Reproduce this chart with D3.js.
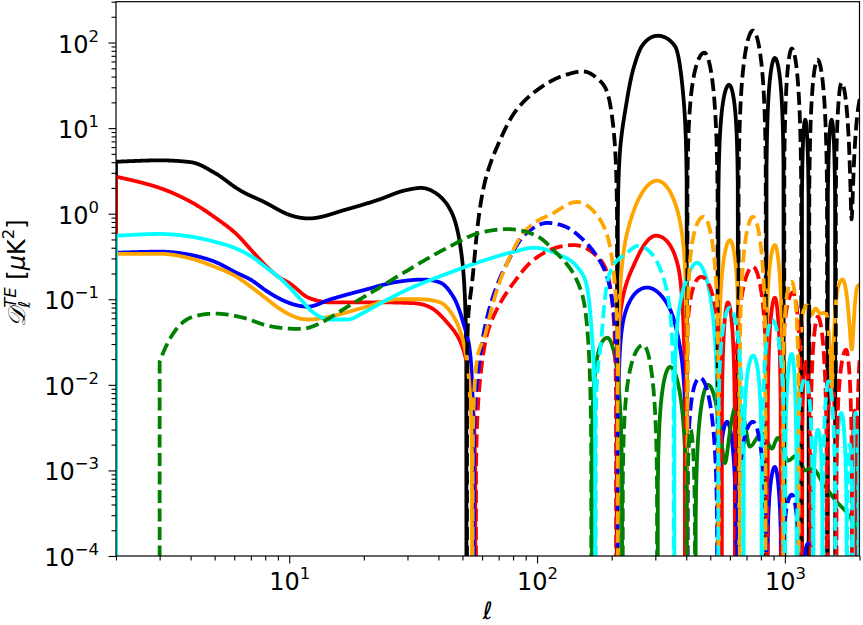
<!DOCTYPE html>
<html lang="en">
<head>
<meta charset="UTF-8">
<title>TE spectra</title>
<script src="https://cdn.jsdelivr.net/npm/d3@7"></script>
<style>
  body { margin: 0; background: #fff; }
  svg { display: block; font-family: "DejaVu Sans", sans-serif; }
</style>
</head>
<body>
<script>
// multipoles and signed D_l^TE values (uK^2), negative -> dashed
var ellBlack = [2, 3, 4, 5, 6, 8, 10, 12, 17, 23, 30, 34, 40, 46, 50, 52, 55.5, 63, 71, 83, 97, 131, 153, 174, 192, 204, 211, 231, 246, 265, 307, 360, 390, 403, 473, 537, 595, 648, 743, 840, 911, 991, 1067, 1168, 1208, 1250, 1355, 1485, 1544, 1600, 1693, 1858, 2006];
var teBlack = [4.05, 4.2, 4.0, 3.0, 2.07, 1.35, 0.97, 0.88, 1.12, 1.46, 1.9, 2.0, 1.65, 0.92, 0.27, 0, -0.24, -3, -7.3, -16.6, -26, -42, -46, -38.5, -26, -9, 0, 22, 52, 91, 120, 91, 22, 0, -76, 0, 32, 0, -138, 0, 66, 0, -85, 0, 12.5, 0, -63, 0, 12.5, 0, -34, -0.86, -22];

var ellRed = [2, 3, 4, 5, 6, 7, 8, 9, 10, 11.9, 14.7, 23.4, 31.8, 37.2, 43.5, 49, 53, 56.5, 59, 63, 71, 81, 97, 116, 140, 168, 192, 209, 244, 302, 371, 396, 460, 555, 589, 630, 743, 850, 911, 965, 1077, 1171, 1215, 1265, 1359, 1480, 1548, 1610, 1766, 1870, 1910, 1950, 2006];
var teRed = [2.71, 2.0, 1.38, 0.91, 0.61, 0.38, 0.25, 0.185, 0.155, 0.105, 0.092, 0.092, 0.09, 0.08, 0.053, 0.032, 0.014, 0, -0.012, -0.04, -0.09, -0.16, -0.29, -0.39, -0.43, -0.35, -0.2, 0, 0.24, 0.553, 0.24, 0, -0.183, 0, 0.092, 0, -0.24, 0, 0.104, 0, -0.12, 0, 0.0186, 0, -0.0624, 0, 0.0114, 0, -0.0257, 0, 0.005, 0, -0.021];

var ellBlue = [2, 3, 4, 5, 6, 7, 8, 9, 11.9, 14.7, 20, 27.4, 34.8, 40.6, 46, 50.4, 53.9, 55.5, 58, 63, 76, 91, 110, 131, 153, 174, 192, 204, 212, 227, 278, 340, 377, 404, 455, 535, 584, 640, 743, 845, 911, 975, 1067, 1165, 1240, 1300];
var teBlue = [0.35, 0.36, 0.33, 0.275, 0.21, 0.169, 0.128, 0.104, 0.082, 0.1, 0.128, 0.16, 0.17, 0.157, 0.106, 0.053, 0.021, 0, -0.015, -0.063, -0.27, -0.6, -0.78, -0.7, -0.5, -0.32, -0.18, -0.07, 0, 0.07, 0.137, 0.082, 0.028, 0, -0.0121, 0, 0.0037, 0, -0.0037, 0, 0.0011, 0, -0.00052, 0, 0.00014, 0];

var ellOrange = [2, 3, 4, 5, 6, 7, 8, 9, 11.9, 14.7, 20, 27.4, 33.8, 40.6, 46, 50.4, 53, 54.8, 57, 63, 76, 91, 103, 113, 145, 174, 194, 204, 212, 231, 305, 384, 403, 470, 540, 600, 656, 743, 838, 911, 982, 1067, 1140, 1190, 1225, 1280, 1330, 1390, 1460, 1548, 1640, 1710, 1863, 1960, 2006];
var teOrange = [0.34, 0.34, 0.3, 0.24, 0.19, 0.14, 0.104, 0.08, 0.058, 0.063, 0.08, 0.1, 0.1, 0.092, 0.063, 0.032, 0.0125, 0, -0.018, -0.048, -0.27, -0.66, -0.86, -0.97, -1.37, -0.97, -0.5, -0.2, 0, 0.6, 2.43, 0.6, 0, -0.92, 0, 0.49, 0, -0.92, 0, 0.43, 0, -0.16, 0, 0.075, 0.085, 0.066, 0.078, 0.068, 0.07, 0.0095, 0.14, 0.17, 0.026, 0.14, 0.15];

var ellCyan = [2, 3, 4, 5, 6, 7, 8, 9, 11.1, 12.5, 14.7, 17.2, 20, 23.4, 31.8, 43.5, 59, 81, 97, 123, 145, 159, 166, 172, 183, 193, 231, 256, 295, 323, 339, 357, 395, 442, 537, 600, 680, 745, 808, 886, 1000, 1067, 1118, 1215, 1300, 1360, 1420, 1500, 1600, 1690, 1780, 1830, 1875, 1930, 1985, 2006];
var teCyan = [0.553, 0.58, 0.54, 0.47, 0.4, 0.32, 0.24, 0.185, 0.1, 0.07, 0.058, 0.058, 0.07, 0.09, 0.14, 0.2, 0.275, 0.36, 0.4, 0.33, 0.24, 0.14, 0.044, 0, -0.044, -0.17, -0.35, -0.42, -0.32, -0.18, -0.1, 0, 0.15, 0.267, 0, -0.08, 0, 0.022, 0, -0.058, 0, 0.023, 0, -0.012, 0, 0.003, 0, -0.011, 0, 0.0047, 0, -0.002, 0, 0.0047, 0, -0.003];

var ellGreen = [3, 4, 5, 6.5, 8, 9.9, 11.1, 13.4, 17.2, 23.4, 31.8, 43.5, 59, 76, 91, 103, 116, 140, 153, 166, 192, 221, 268, 306, 344, 402, 416, 435, 490, 573, 646, 722, 808, 886, 937, 1028, 1118, 1204, 1285, 1424, 1560, 1780, 2006];
var teGreen = [-0.0186, -0.061, -0.068, -0.061, -0.05, -0.0455, -0.045, -0.053, -0.082, -0.14, -0.24, -0.4, -0.6, -0.66, -0.61, -0.52, -0.38, -0.2, -0.106, 0, 0.0355, 0, -0.0293, 0, 0.0162, 0, -0.003, 0, 0.01, 0.00122, 0.0062, 0.0019, 0.0027, 0.0018, 0.0024, 0.0013, 0.0015, 0.001, 0.00106, 0.00071, 0.00049, 0.00032, 0.000185];

var xMajor = [10, 100, 1000];
var yMajor = [1e-4, 1e-3, 1e-2, 1e-1, 1, 10, 100];

var series = [
  { color: "black",   ell: ellBlack,  te: teBlack },
  { color: "red",     ell: ellRed,    te: teRed },
  { color: "blue",    ell: ellBlue,   te: teBlue },
  { color: "orange",  ell: ellOrange, te: teOrange },
  { color: "green",   ell: ellGreen,  te: teGreen },
  { color: "cyan",    ell: ellCyan,   te: teCyan }
];

var w = 863, h = 625;
var pLeft = 116, pRight = 859.5, pTop = 1.7, pBottom = 556;
var TINY = 1e-9;   // stands in for zero on the log axis (far below the frame)

var x = d3.scaleLog().domain([2, 2000]).range([pLeft, pRight]);
var y = d3.scaleLog().domain([1e-4, 300]).range([pBottom, pTop]);

var svg = d3.select("body").append("svg").attr("width", w).attr("height", h);

svg.append("clipPath").attr("id", "plotclip")
  .append("rect").attr("x", pLeft).attr("y", pTop)
  .attr("width", pRight - pLeft).attr("height", pBottom - pTop);

// smooth monotone curve through the signed values, in log(ell)
function sampleSeries(ells, vals) {
  var lx = ells.map(Math.log10), n = lx.length, m = new Array(n);
  for (var i = 1; i < n - 1; i++) {
    var h0 = lx[i] - lx[i - 1], h1 = lx[i + 1] - lx[i];
    var s0 = (vals[i] - vals[i - 1]) / h0, s1 = (vals[i + 1] - vals[i]) / h1;
    var p = (s0 * h1 + s1 * h0) / (h0 + h1);
    m[i] = (Math.sign(s0) + Math.sign(s1)) * Math.min(Math.abs(s0), Math.abs(s1), 0.5 * Math.abs(p)) || 0;
  }
  m[0] = (vals[1] - vals[0]) / (lx[1] - lx[0]);
  m[n - 1] = (vals[n - 1] - vals[n - 2]) / (lx[n - 1] - lx[n - 2]);
  var out = [];
  for (var i = 0; i < n - 1; i++) {
    var hh = lx[i + 1] - lx[i];
    var steps = Math.max(6, Math.ceil((x(ells[i + 1]) - x(ells[i])) / 0.4));
    for (var j = 0; j < steps; j++) {
      var t = j / steps, t2 = t * t, t3 = t2 * t;
      var v = (2 * t3 - 3 * t2 + 1) * vals[i] + (t3 - 2 * t2 + t) * hh * m[i]
            + (-2 * t3 + 3 * t2) * vals[i + 1] + (t3 - t2) * hh * m[i + 1];
      out.push([Math.pow(10, lx[i] + t * hh), v]);
    }
  }
  out.push([ells[n - 1], vals[n - 1]]);
  return out;
}

// cut into same-sign pieces; each piece dives to "zero" at its ends
function splitRuns(samples) {
  var runs = [], cur = null, prev = null, zeroAt = null;
  samples.forEach(function(s) {
    var sg = Math.sign(s[1]);
    if (sg === 0) {
      if (cur) { cur.pts.push([s[0], TINY]); runs.push(cur); cur = null; }
      zeroAt = s[0];
    } else {
      if (cur && cur.sign !== sg) {
        var f = prev[1] / (prev[1] - s[1]);
        var lc = Math.pow(10, Math.log10(prev[0]) + f * (Math.log10(s[0]) - Math.log10(prev[0])));
        cur.pts.push([lc, TINY]); runs.push(cur);
        cur = { sign: sg, pts: [[lc, TINY]] };
      }
      if (!cur) {
        cur = { sign: sg, pts: [[zeroAt !== null ? zeroAt : s[0], TINY]] };
        zeroAt = null;
      }
      cur.pts.push([s[0], Math.abs(s[1])]);
    }
    prev = s;
  });
  if (cur) runs.push(cur);
  return runs;
}

var line = d3.line()
  .x(function(d) { return x(d[0]); })
  .y(function(d) { return y(d[1]); });

var plot = svg.append("g").attr("clip-path", "url(#plotclip)");

series.forEach(function(s) { s.runs = splitRuns(sampleSeries(s.ell, s.te)); });

// solid (positive) first, then dashed (negative)
[1, -1].forEach(function(sign) {
  series.forEach(function(s) {
    plot.selectAll(null)
      .data(s.runs.filter(function(r) { return r.sign === sign; }))
      .enter().append("path")
      .attr("d", function(r) { return line(r.pts); })
      .attr("fill", "none")
      .attr("stroke", s.color)
      .attr("stroke-width", 3.8)
      .attr("stroke-linejoin", "round")
      .attr("stroke-dasharray", sign < 0 ? "13,5.5" : null);
  });
});

// axes
function powLabel(d) {
  var e = Math.round(Math.log10(d));
  var t = d3.select(this);
  t.text(null);
  t.append("tspan").text("10");
  t.append("tspan").attr("font-size", 16.5).attr("dy", -11)
    .text(e < 0 ? "\u2212" + (-e) : String(e));
}

var xMinor = x.ticks().filter(function(d) { return xMajor.indexOf(d) < 0; });
var yMinor = y.ticks().filter(function(d) {
  var e = Math.log10(d); return Math.abs(e - Math.round(e)) > 1e-6;
});

var gxMinor = svg.append("g").attr("transform", "translate(0," + pBottom + ")")
  .call(d3.axisBottom(x).tickValues(xMinor).tickSize(4.5).tickFormat(""));
var gx = svg.append("g").attr("transform", "translate(0," + pBottom + ")")
  .call(d3.axisBottom(x).tickValues(xMajor).tickSize(7.5).tickFormat(""));
var gyMinor = svg.append("g").attr("transform", "translate(" + pLeft + ",0)")
  .call(d3.axisLeft(y).tickValues(yMinor).tickSize(4.5).tickFormat(""));
var gy = svg.append("g").attr("transform", "translate(" + pLeft + ",0)")
  .call(d3.axisLeft(y).tickValues(yMajor).tickSize(7.5).tickFormat(""));

[gxMinor, gx, gyMinor, gy].forEach(function(g) {
  g.select(".domain").remove();
  g.selectAll(".tick line").attr("stroke-width", 1.1);
  g.attr("font-size", 24).attr("font-family", "DejaVu Sans");
});

gx.selectAll(".tick text").attr("y", 34).attr("dy", null).each(powLabel);
gy.selectAll(".tick text").attr("x", -17).attr("y", 9.5).attr("dy", null).each(powLabel);

svg.append("rect")
  .attr("x", pLeft).attr("y", pTop)
  .attr("width", pRight - pLeft).attr("height", pBottom - pTop)
  .attr("fill", "none").attr("stroke", "black").attr("stroke-width", 1.2);

// axis labels
svg.append("text")
  .attr("x", (pLeft + pRight) / 2).attr("y", 619)
  .attr("text-anchor", "middle").attr("font-size", 24).attr("font-style", "italic")
  .text("\u2113");

var yl = svg.append("text")
  .attr("transform", "translate(25,273) rotate(-90)")
  .attr("text-anchor", "middle").attr("font-size", 24);
yl.append("tspan").attr("font-style", "italic").text("\uD835\uDC9F");
yl.append("tspan").attr("font-size", 16.5).attr("font-style", "italic").attr("dy", 5).text("\u2113");
yl.append("tspan").attr("font-size", 16.5).attr("font-style", "italic").attr("dx", -7).attr("dy", -14).text("TE");
yl.append("tspan").attr("dy", 9).text(" [");
yl.append("tspan").attr("font-style", "italic").text("\u03BC");
yl.append("tspan").text("K");
yl.append("tspan").attr("font-size", 16.5).attr("dy", -11).text("2");
yl.append("tspan").attr("dy", 11).text("]");
</script>
</body>
</html>
